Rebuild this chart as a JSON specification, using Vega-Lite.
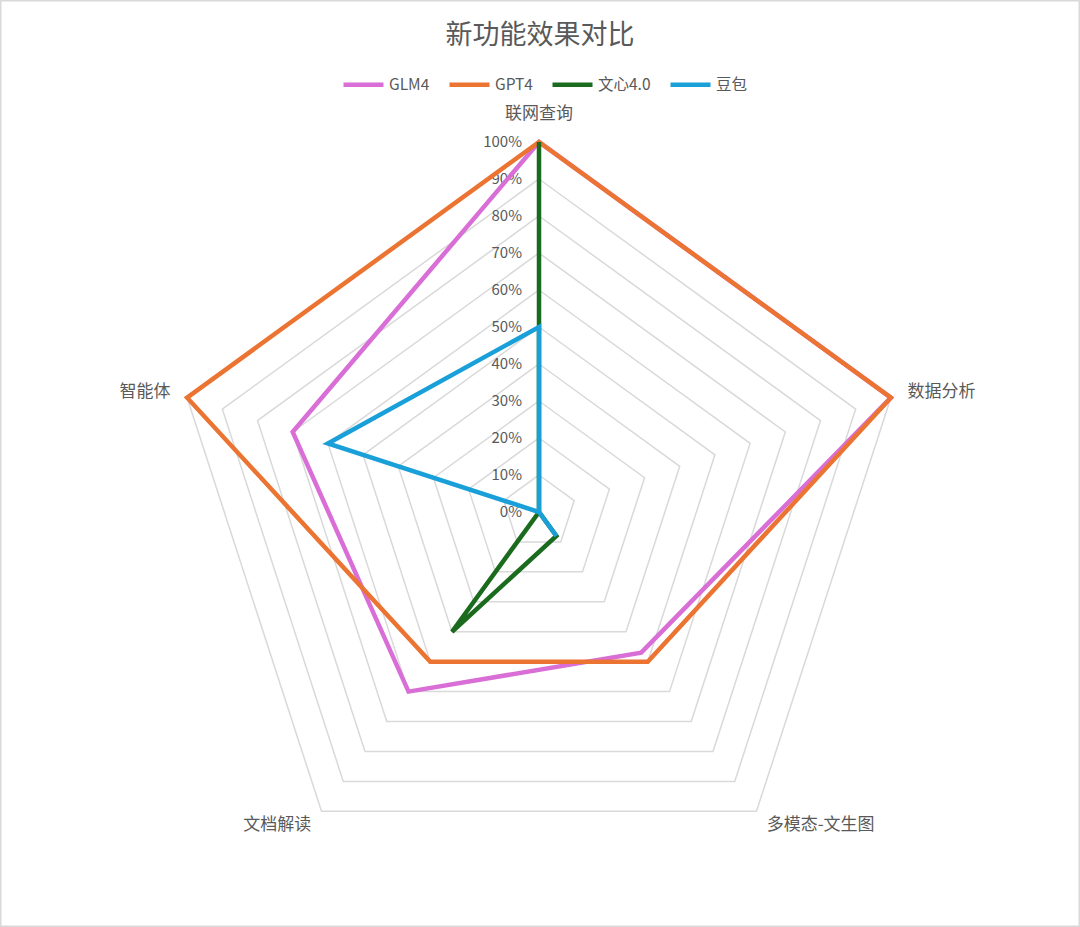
{
  "$schema": "https://vega.github.io/schema/vega-lite/v6.json",
  "width": 1080,
  "height": 927,
  "autosize": {"type": "none"},
  "padding": 0,
  "background": "white",
  "config": {
    "view": {"stroke": "#d9d9d9", "strokeWidth": 3},
    "font": "Noto Sans CJK SC"
  },
  "title": {
    "text": "新功能效果对比",
    "fontSize": 27,
    "fontWeight": "normal",
    "color": "#595959",
    "anchor": "middle",
    "offset": -50
  },
  "datasets": {
    "scores": [
      {"series": "GLM4", "idx": 0, "value": 100},
      {"series": "GLM4", "idx": 1, "value": 100},
      {"series": "GLM4", "idx": 2, "value": 47},
      {"series": "GLM4", "idx": 3, "value": 60},
      {"series": "GLM4", "idx": 4, "value": 70},
      {"series": "GPT4", "idx": 0, "value": 100},
      {"series": "GPT4", "idx": 1, "value": 100},
      {"series": "GPT4", "idx": 2, "value": 50},
      {"series": "GPT4", "idx": 3, "value": 50},
      {"series": "GPT4", "idx": 4, "value": 100},
      {"series": "文心4.0", "idx": 0, "value": 100},
      {"series": "文心4.0", "idx": 1, "value": 0},
      {"series": "文心4.0", "idx": 2, "value": 8},
      {"series": "文心4.0", "idx": 3, "value": 40},
      {"series": "文心4.0", "idx": 4, "value": 0},
      {"series": "豆包", "idx": 0, "value": 50},
      {"series": "豆包", "idx": 1, "value": 0},
      {"series": "豆包", "idx": 2, "value": 8},
      {"series": "豆包", "idx": 3, "value": 0},
      {"series": "豆包", "idx": 4, "value": 60}
    ],
    "grid": [
      {"level": 0, "idx": [0, 1, 2, 3, 4]},
      {"level": 10, "idx": [0, 1, 2, 3, 4]},
      {"level": 20, "idx": [0, 1, 2, 3, 4]},
      {"level": 30, "idx": [0, 1, 2, 3, 4]},
      {"level": 40, "idx": [0, 1, 2, 3, 4]},
      {"level": 50, "idx": [0, 1, 2, 3, 4]},
      {"level": 60, "idx": [0, 1, 2, 3, 4]},
      {"level": 70, "idx": [0, 1, 2, 3, 4]},
      {"level": 80, "idx": [0, 1, 2, 3, 4]},
      {"level": 90, "idx": [0, 1, 2, 3, 4]},
      {"level": 100, "idx": [0, 1, 2, 3, 4]}
    ],
    "axes": [
      {"idx": 0, "name": "联网查询"},
      {"idx": 1, "name": "数据分析"},
      {"idx": 2, "name": "多模态-文生图"},
      {"idx": 3, "name": "文档解读"},
      {"idx": 4, "name": "智能体"}
    ]
  },
  "layer": [
    {
      "data": {"name": "grid"},
      "transform": [
        {"flatten": ["idx"]},
        {"calculate": "datum.idx * 2 * PI / 5", "as": "ang"},
        {"calculate": "datum.level * sin(datum.ang)", "as": "px"},
        {"calculate": "datum.level * cos(datum.ang)", "as": "py"}
      ],
      "mark": {"type": "line", "interpolate": "linear-closed", "stroke": "#d9d9d9", "strokeWidth": 1.5},
      "encoding": {
        "x": {"field": "px", "type": "quantitative", "scale": {"domain": [-145.68, 146.22], "nice": false, "zero": false}, "axis": null},
        "y": {"field": "py", "type": "quantitative", "scale": {"domain": [-112.16, 138.38], "nice": false, "zero": false}, "axis": null},
        "detail": {"field": "level"},
        "order": {"field": "idx"}
      }
    },
    {
      "data": {"name": "grid"},
      "transform": [
        {"calculate": "0", "as": "px"},
        {"calculate": "datum.level + '%'", "as": "label"}
      ],
      "mark": {"type": "text", "align": "right", "baseline": "middle", "dx": -17, "fontSize": 15, "color": "#595959"},
      "encoding": {
        "x": {"field": "px", "type": "quantitative"},
        "y": {"field": "level", "type": "quantitative"},
        "text": {"field": "label"}
      }
    },
    {
      "data": {"name": "scores"},
      "transform": [
        {"calculate": "datum.idx * 2 * PI / 5", "as": "ang"},
        {"calculate": "datum.value * sin(datum.ang)", "as": "px"},
        {"calculate": "datum.value * cos(datum.ang)", "as": "py"}
      ],
      "mark": {"type": "line", "interpolate": "linear-closed", "strokeWidth": 4.5},
      "encoding": {
        "x": {"field": "px", "type": "quantitative"},
        "y": {"field": "py", "type": "quantitative"},
        "order": {"field": "idx"},
        "color": {
          "field": "series",
          "type": "nominal",
          "scale": {
            "domain": ["GLM4", "GPT4", "文心4.0", "豆包"],
            "range": ["#d96fd6", "#ec7432", "#1b6b1f", "#1aa0d8"]
          },
          "legend": {
            "title": null,
            "orient": "none",
            "legendX": 341,
            "legendY": 62,
            "direction": "horizontal",
            "symbolType": "stroke",
            "symbolSize": 1600,
            "symbolStrokeWidth": 4.5,
            "labelFontSize": 15.5,
            "labelColor": "#595959",
            "labelOffset": 3,
            "columnPadding": 10,
            "padding": 0
          }
        }
      }
    },
    {
      "data": {"name": "axes"},
      "transform": [
        {"calculate": "datum.idx * 2 * PI / 5", "as": "ang"},
        {"calculate": "datum.idx == 0 ? 107.6 : 104.7", "as": "r"},
        {"calculate": "datum.r * sin(datum.ang)", "as": "px"},
        {"calculate": "datum.r * cos(datum.ang)", "as": "py"}
      ],
      "mark": {
        "type": "text",
        "baseline": "middle",
        "fontSize": 17,
        "color": "#595959",
        "align": {"expr": "datum.idx == 0 ? 'center' : (datum.idx <= 2 ? 'left' : 'right')"}
      },
      "encoding": {
        "x": {"field": "px", "type": "quantitative"},
        "y": {"field": "py", "type": "quantitative"},
        "text": {"field": "name"}
      }
    }
  ]
}
